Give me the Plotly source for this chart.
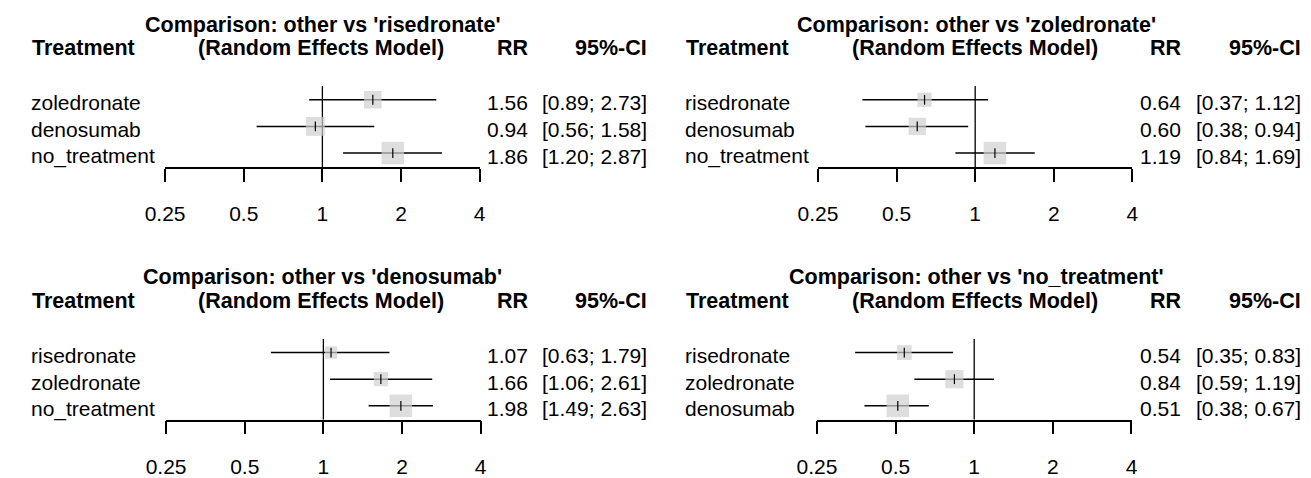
import numpy as np
import plotly.graph_objects as go

W, H = 1311, 478

# ---------------- data ----------------
reference_groups = ["risedronate", "zoledronate", "denosumab", "no_treatment"]

treat_risedronate = ["zoledronate", "denosumab", "no_treatment"]
rr_risedronate = [1.56, 0.94, 1.86]
lo_risedronate = [0.89, 0.56, 1.20]
hi_risedronate = [2.73, 1.58, 2.87]

treat_zoledronate = ["risedronate", "denosumab", "no_treatment"]
rr_zoledronate = [0.64, 0.60, 1.19]
lo_zoledronate = [0.37, 0.38, 0.84]
hi_zoledronate = [1.12, 0.94, 1.69]

treat_denosumab = ["risedronate", "zoledronate", "no_treatment"]
rr_denosumab = [1.07, 1.66, 1.98]
lo_denosumab = [0.63, 1.06, 1.49]
hi_denosumab = [1.79, 2.61, 2.63]

treat_notreat = ["risedronate", "zoledronate", "denosumab"]
rr_notreat = [0.54, 0.84, 0.51]
lo_notreat = [0.35, 0.59, 0.38]
hi_notreat = [0.83, 1.19, 0.67]

tick_values = [0.25, 0.5, 1, 2, 4]
tick_labels = ["0.25", "0.5", "1", "2", "4"]

panels = [
    (treat_risedronate, rr_risedronate, lo_risedronate, hi_risedronate),
    (treat_zoledronate, rr_zoledronate, lo_zoledronate, hi_zoledronate),
    (treat_denosumab, rr_denosumab, lo_denosumab, hi_denosumab),
    (treat_notreat, rr_notreat, lo_notreat, hi_notreat),
]

# ---------------- styling / layout ----------------
FONT = "Liberation Sans, Arial, Helvetica, sans-serif"
FS = 21
FS_B = 21.5
SQ_COLOR = "#D0D0D0"
MAX_SQ = 22.5

axis_left = [148, 814, 149, 813]   # px position of 0.25
axis_width = 321
text_dx = [0, 667, 0, 667]
panel_dy = [0, 0, 256, 256]
y_top_px, y_bot_px = 87, 169       # ref line top / axis line (top panels)
Y_RANGE = [3.52, 0.48]

fig = go.Figure()
annotations = []
layout_axes = {}


def px_x(x):
    return x / W


def px_y(y):
    return 1 - y / H


for k, (treat, rr, lo, hi) in enumerate(panels):
    n = k + 1
    xa = "x" if n == 1 else f"x{n}"
    ya = "y" if n == 1 else f"y{n}"
    xkey = "xaxis" if n == 1 else f"xaxis{n}"
    ykey = "yaxis" if n == 1 else f"yaxis{n}"
    dx, dy = text_dx[k], panel_dy[k]
    rows = list(range(1, len(treat) + 1))

    # standard errors -> square sizes (proportional to sqrt(weight))
    rr_a, lo_a, hi_a = np.array(rr), np.array(lo), np.array(hi)
    se = np.log(hi_a / lo_a) / (2 * 1.96)
    inv = 1 / se
    sizes = MAX_SQ * inv / inv.max()

    # reference line at 1
    fig.add_trace(go.Scatter(x=[1, 1], y=Y_RANGE, mode="lines", xaxis=xa, yaxis=ya,
                             line=dict(color="black", width=1.3), hoverinfo="skip",
                             showlegend=False, cliponaxis=False))
    # CI lines
    for r, l, h in zip(rows, lo, hi):
        fig.add_trace(go.Scatter(x=[l, h], y=[r, r], mode="lines", xaxis=xa, yaxis=ya,
                                 line=dict(color="black", width=1.5), hoverinfo="skip",
                                 showlegend=False, cliponaxis=False))
    # squares
    fig.add_trace(go.Scatter(x=rr, y=rows, mode="markers", xaxis=xa, yaxis=ya,
                             marker=dict(symbol="square", size=sizes, color=SQ_COLOR,
                                         line=dict(width=0)),
                             hoverinfo="skip", showlegend=False, cliponaxis=False))
    # center cross
    fig.add_trace(go.Scatter(x=rr, y=rows, mode="markers", xaxis=xa, yaxis=ya,
                             marker=dict(symbol="line-ns", size=7, color="black",
                                         line=dict(width=1.2, color="black")),
                             hoverinfo="skip", showlegend=False, cliponaxis=False))

    x0 = axis_left[k]
    top = y_top_px + dy
    bot = y_bot_px + dy
    layout_axes[xkey] = dict(
        type="log", range=[np.log10(0.2499), np.log10(4.001)],
        domain=[px_x(x0), px_x(x0 + axis_width)], anchor=ya,
        showline=True, linecolor="black", linewidth=1.5,
        ticks="outside", ticklen=13, tickwidth=1.5, tickcolor="black",
        tickvals=tick_values, ticktext=tick_labels,
        tickfont=dict(family=FONT, size=FS, color="black"),
        ticklabelstandoff=14,
        showgrid=False, zeroline=False, fixedrange=True,
    )
    layout_axes[ykey] = dict(
        range=Y_RANGE, domain=[px_y(bot), px_y(top)], anchor=xa,
        visible=False, fixedrange=True,
    )

    # titles and headers
    annotations.append(dict(text=f"<b>Comparison: other vs '{reference_groups[k]}'</b>",
                            x=px_x(309 + dx), y=px_y(25 + dy), xref="paper", yref="paper",
                            xanchor="center", yanchor="middle", showarrow=False,
                            font=dict(family=FONT, size=FS_B, color="black")))
    for txt, xp, anc in [("Treatment", 10, "left"), ("(Random Effects Model)", 307, "center"),
                         ("RR", 521, "right"), ("95%-CI", 642, "right")]:
        annotations.append(dict(text=f"<b>{txt}</b>", x=px_x(xp + dx), y=px_y(49 + dy),
                                xref="paper", yref="paper", xanchor=anc, yanchor="middle",
                                showarrow=False,
                                font=dict(family=FONT, size=FS_B, color="black")))
    # row texts
    for r, t, v, l, h in zip(rows, treat, rr, lo, hi):
        for txt, xp, anc in [(t, 9, "left"), (f"{v:.2f}", 520, "right"),
                             (f"[{l:.2f}; {h:.2f}]", 642, "right")]:
            annotations.append(dict(text=txt, x=px_x(xp + dx), y=r, xref="paper", yref=ya,
                                    xanchor=anc, yanchor="middle", yshift=-3,
                                    showarrow=False,
                                    font=dict(family=FONT, size=FS, color="black")))

fig.update_layout(
    width=W, height=H, autosize=False,
    margin=dict(l=0, r=0, t=0, b=0, pad=0),
    paper_bgcolor="white", plot_bgcolor="white",
    showlegend=False,
    annotations=annotations,
    **layout_axes,
)

fig.write_html("out.html", config={"displayModeBar": False},
               post_script="document.body.style.margin='0px';")
